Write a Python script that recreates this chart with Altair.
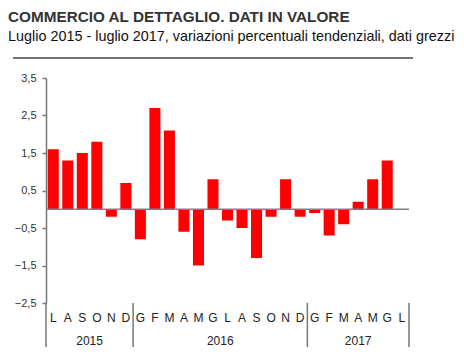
import altair as alt
import pandas as pd

TITLE = "COMMERCIO AL DETTAGLIO. DATI IN VALORE"
SUBTITLE = "Luglio 2015 - luglio 2017, variazioni percentuali tendenziali, dati grezzi"

months = ["L", "A", "S", "O", "N", "D",
          "G", "F", "M", "A", "M", "G", "L", "A", "S", "O", "N", "D",
          "G", "F", "M", "A", "M", "G", "L"]
values = [1.6, 1.3, 1.5, 1.8, -0.2, 0.7,
          -0.8, 2.7, 2.1, -0.6, -1.5, 0.8, -0.3, -0.5, -1.3, -0.2, 0.8, -0.2,
          -0.1, -0.7, -0.4, 0.2, 0.8, 1.3, None]
years = ["2015", "2016", "2017"]
year_start = [0, 6, 18]
year_end = [6, 18, 25]
y_ticks = [-2.5, -1.5, -0.5, 0.5, 1.5, 2.5, 3.5]

W, H = 363, 225
FONT = "Liberation Sans, Arial, sans-serif"

keys = [f"{i:02d}|{m}" for i, m in enumerate(months)]
df = pd.DataFrame({"key": keys, "value": values})

yscale = alt.Scale(domain=[-2.5, 3.5], nice=False, zero=False)
yaxis = alt.Axis(title=None, values=y_ticks, tickCount=7, grid=False,
                 labelExpr="replace(format(datum.value, '.1f'), '.', ',')",
                 labelOverlap=False, labelBound=False,
                 domainColor="#777", domainWidth=1.5,
                 tickColor="#777", tickSize=4, tickWidth=1.5,
                 labelPadding=6, labelFontSize=11, labelFont=FONT,
                 labelColor="#333")

bars = alt.Chart(df).mark_bar(color="#ff0000").encode(
    x=alt.X("key:N", sort=None,
            scale=alt.Scale(domain=keys, paddingInner=0.24, paddingOuter=0.12),
            axis=alt.Axis(title=None, labelExpr="split(datum.value, '|')[1]",
                          labelAngle=0, domain=False, ticks=False,
                          labelPadding=9, labelFontSize=12, labelFont=FONT,
                          labelColor="#222", labelOverlap=False)),
    y=alt.Y("value:Q", scale=yscale, axis=yaxis),
    y2=alt.datum(0),
)

zero = alt.Chart(pd.DataFrame({"value": [0.0]})).mark_rule(color="#808080", strokeWidth=1.5).encode(
    y=alt.Y("value:Q", scale=yscale, axis=yaxis), x=alt.value(0), x2=alt.value(W)
)

title = alt.Chart(pd.DataFrame({"t": [TITLE]})).mark_text(
    align="left", baseline="alphabetic", font=FONT, fontSize=15.3,
    fontWeight="bold", color="#333"
).encode(text="t:N", x=alt.value(-38), y=alt.value(-56))

subtitle = alt.Chart(pd.DataFrame({"t": [SUBTITLE]})).mark_text(
    align="left", baseline="alphabetic", font=FONT, fontSize=14.4, color="#111"
).encode(text="t:N", x=alt.value(-38), y=alt.value(-37))

hline = alt.Chart(pd.DataFrame({"a": [0]})).mark_rule(color="#444", strokeWidth=1.5).encode(
    x=alt.value(-33), x2=alt.value(367), y=alt.value(-20)
)

ydf = pd.DataFrame({"year": years, "start": year_start, "end": year_end})
year_labels = alt.Chart(ydf).transform_calculate(
    mid="(datum.start + datum.end) / 2"
).mark_text(fontSize=12, font=FONT, color="#222", baseline="middle").encode(
    x=alt.X("mid:Q", scale=alt.Scale(domain=[0, 25], nice=False), axis=None),
    y=alt.value(263),
    text="year:N",
)

sdf = pd.DataFrame({"b": year_start + [year_end[-1]]})
seps = alt.Chart(sdf).mark_rule(color="#777", strokeWidth=1.5).encode(
    x=alt.X("b:Q", scale=alt.Scale(domain=[0, 25], nice=False), axis=None),
    y=alt.value(H), y2=alt.value(269),
)

chart = alt.layer(bars, zero, hline, title, subtitle, year_labels, seps).resolve_scale(
    x="independent"
).properties(
    width=W, height=H,
    autosize=alt.AutoSizeParams(type="none"),
    padding={"left": 38, "top": 70, "right": 47, "bottom": 48},
    background="white",
).configure_view(stroke=None)

chart.save("out.html", embed_options={"renderer": "svg", "actions": False})
